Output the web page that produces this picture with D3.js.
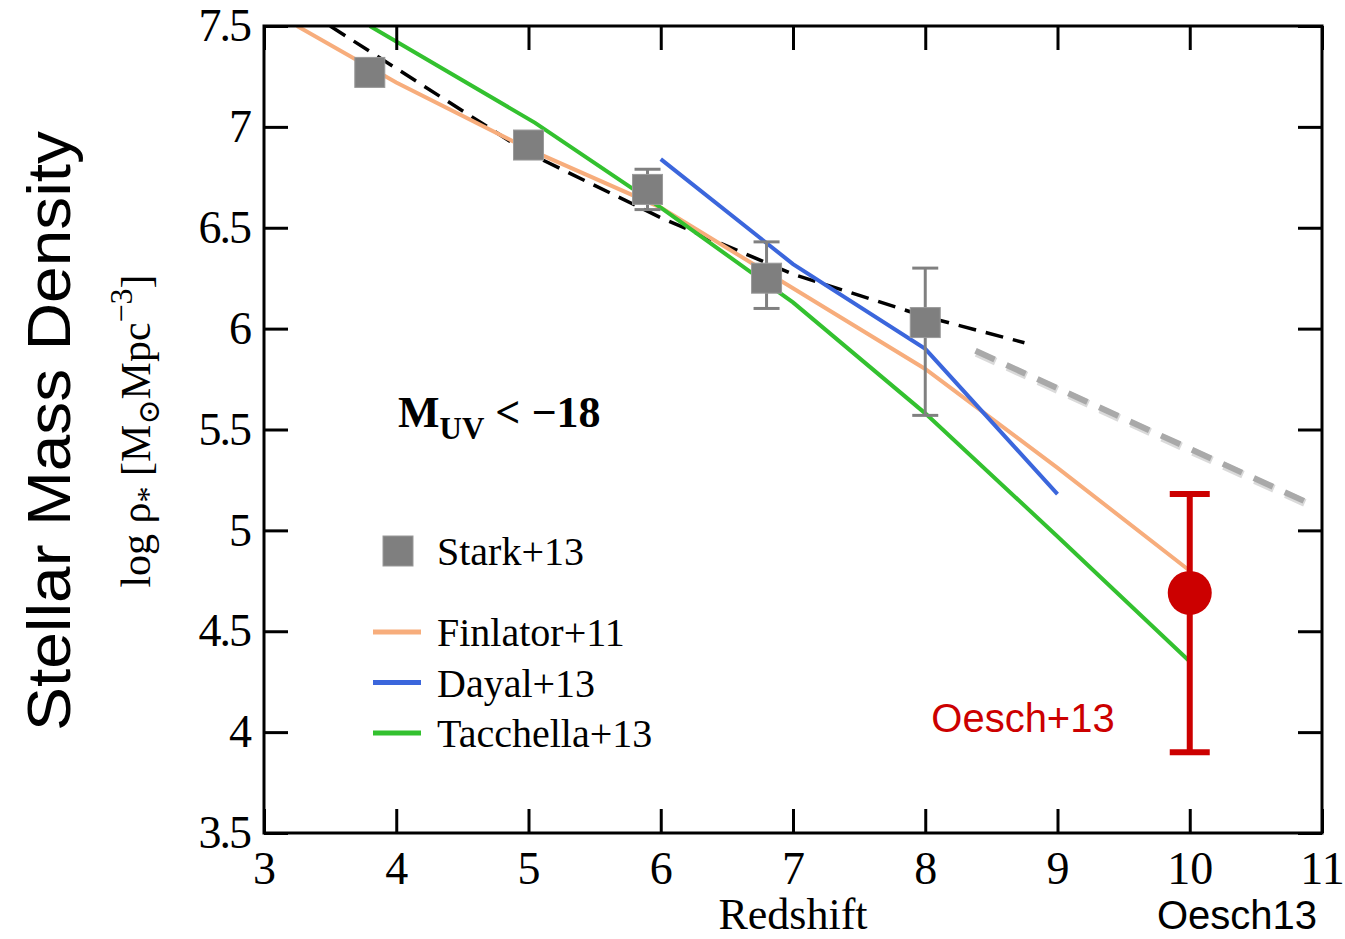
<!DOCTYPE html>
<html>
<head>
<meta charset="utf-8">
<script src="https://cdn.jsdelivr.net/npm/d3@7"></script>
<style>
  body { margin: 0; background: #fff; }
</style>
</head>
<body>
<svg id="chart" width="1345" height="939"></svg>
<script>
// --- data ---
var xTicks = [3, 4, 5, 6, 7, 8, 9, 10, 11];
var yTicks = [3.5, 4, 4.5, 5, 5.5, 6, 6.5, 7, 7.5];

var starkZ   = [3.8, 5.0, 5.9, 6.8, 8.0];
var starkRho = [7.27, 6.91, 6.69, 6.25, 6.03];
var starkLo  = [null, null, 6.59, 6.10, 5.57];
var starkHi  = [null, null, 6.79, 6.43, 6.30];

var finlatorZ   = [3.25, 4, 5, 6, 7, 8, 9, 10];
var finlatorRho = [7.5, 7.22, 6.89, 6.60, 6.20, 5.80, 5.31, 4.80];

var dayalZ   = [6.0, 7.0, 8.0, 9.0];
var dayalRho = [6.84, 6.32, 5.90, 5.18];

var tacchellaZ   = [3.8, 5.05, 6, 7, 8, 9, 10];
var tacchellaRho = [7.5, 7.02, 6.60, 6.13, 5.58, 4.97, 4.35];

var fitZ   = [3.5, 5, 6, 7, 8, 8.75];
var fitRho = [7.5, 6.87, 6.55, 6.27, 6.06, 5.93];

var extrapZ   = [8.38, 10.95];
var extrapRho = [5.89, 5.12];

var oeschZ = 10, oeschRho = 4.69, oeschLo = 3.90, oeschHi = 5.18;

var legendNames = ["Finlator+11", "Dayal+13", "Tacchella+13"];
var legendColors = ["#f7ad7c", "#3b66dc", "#33c12f"];

// --- layout ---
var margin = {top: 26, right: 23, bottom: 106, left: 264}
  , width = 1345 - margin.left - margin.right
  , height = 939 - margin.top - margin.bottom;

var serif = "Liberation Serif, DejaVu Serif, serif";
var sans = "Liberation Sans, Arial, sans-serif";

var svg = d3.select("#chart");
var g = svg.append("g")
    .attr("transform", "translate(" + margin.left + "," + margin.top + ")");

var xScale = d3.scaleLinear().domain([3, 11]).range([0, width]);
var yScale = d3.scaleLinear().domain([3.5, 7.5]).range([height, 0]);

function zip(xs, ys) { return xs.map(function(x, i) { return [x, ys[i]]; }); }

var line = d3.line()
    .x(function(d) { return xScale(d[0]); })
    .y(function(d) { return yScale(d[1]); });

// clip so lines stop at the frame
g.append("clipPath").attr("id", "clip")
  .append("rect").attr("width", width).attr("height", height);

var plot = g.append("g").attr("clip-path", "url(#clip)");

// grey extrapolation (with a soft shadow)
plot.append("path")
    .datum(zip(extrapZ, extrapRho))
    .attr("d", line)
    .attr("fill", "none")
    .attr("stroke", "#dadada")
    .attr("stroke-width", 8)
    .attr("stroke-dasharray", "21,13")
    .attr("transform", "translate(1,2)");
plot.append("path")
    .datum(zip(extrapZ, extrapRho))
    .attr("d", line)
    .attr("fill", "none")
    .attr("stroke", "#a9a9a9")
    .attr("stroke-width", 6)
    .attr("stroke-dasharray", "21,13");

// black dashed fit
plot.append("path")
    .datum(zip(fitZ, fitRho))
    .attr("d", line)
    .attr("fill", "none")
    .attr("stroke", "#000")
    .attr("stroke-width", 3.5)
    .attr("stroke-dasharray", "18,10");

// models
var models = [
  {z: finlatorZ, rho: finlatorRho, color: legendColors[0]},
  {z: dayalZ, rho: dayalRho, color: legendColors[1]},
  {z: tacchellaZ, rho: tacchellaRho, color: legendColors[2]}
];
models.forEach(function(m) {
  plot.append("path")
      .datum(zip(m.z, m.rho))
      .attr("d", line)
      .attr("fill", "none")
      .attr("stroke", m.color)
      .attr("stroke-width", 4);
});

// Stark+13 points with error bars
var stark = starkZ.map(function(z, i) {
  return {z: z, rho: starkRho[i], lo: starkLo[i], hi: starkHi[i]};
});
var withErr = stark.filter(function(d) { return d.lo != null; });

g.selectAll(".sbar").data(withErr).enter().append("line")
    .attr("x1", function(d) { return xScale(d.z); })
    .attr("x2", function(d) { return xScale(d.z); })
    .attr("y1", function(d) { return yScale(d.lo); })
    .attr("y2", function(d) { return yScale(d.hi); })
    .attr("stroke", "#808080").attr("stroke-width", 3);
g.selectAll(".scapl").data(withErr).enter().append("line")
    .attr("x1", function(d) { return xScale(d.z) - 13; })
    .attr("x2", function(d) { return xScale(d.z) + 13; })
    .attr("y1", function(d) { return yScale(d.lo); })
    .attr("y2", function(d) { return yScale(d.lo); })
    .attr("stroke", "#808080").attr("stroke-width", 3);
g.selectAll(".scaph").data(withErr).enter().append("line")
    .attr("x1", function(d) { return xScale(d.z) - 13; })
    .attr("x2", function(d) { return xScale(d.z) + 13; })
    .attr("y1", function(d) { return yScale(d.hi); })
    .attr("y2", function(d) { return yScale(d.hi); })
    .attr("stroke", "#808080").attr("stroke-width", 3);

g.selectAll(".sq").data(stark).enter().append("rect")
    .attr("x", function(d) { return xScale(d.z) - 15; })
    .attr("y", function(d) { return yScale(d.rho) - 15; })
    .attr("width", 30).attr("height", 30)
    .attr("fill", "#7f7f7f")
    .attr("stroke", "#9a9a9a").attr("stroke-width", 1);

// Oesch+13 point
var red = "#cc0000";
g.append("line")
    .attr("x1", xScale(oeschZ)).attr("x2", xScale(oeschZ))
    .attr("y1", yScale(oeschLo)).attr("y2", yScale(oeschHi))
    .attr("stroke", red).attr("stroke-width", 6);
[oeschLo, oeschHi].forEach(function(v) {
  g.append("line")
      .attr("x1", xScale(oeschZ) - 20).attr("x2", xScale(oeschZ) + 20)
      .attr("y1", yScale(v)).attr("y2", yScale(v))
      .attr("stroke", red).attr("stroke-width", 6);
});
g.append("circle")
    .attr("cx", xScale(oeschZ)).attr("cy", yScale(oeschRho))
    .attr("r", 22).attr("fill", red);

// axes (ticks inside, mirrored)
var tickLen = 24;
function styleAxis(sel) {
  sel.attr("font-family", serif);
  sel.select(".domain").remove();
  sel.selectAll(".tick line").attr("stroke", "#000").attr("stroke-width", 3);
}
g.append("g")
    .attr("transform", "translate(0," + height + ")")
    .call(d3.axisBottom(xScale).tickValues(xTicks).tickSize(-tickLen).tickPadding(18))
    .call(styleAxis)
    .selectAll("text").attr("font-size", 46).attr("fill", "#000").attr("dy", "0.72em");
g.append("g")
    .call(d3.axisTop(xScale).tickValues(xTicks).tickSize(-tickLen).tickFormat(""))
    .call(styleAxis);
g.append("g")
    .call(d3.axisLeft(yScale).tickValues(yTicks).tickSize(-tickLen).tickPadding(14)
      .tickFormat(function(d) { return d3.format("")(d); }))
    .call(styleAxis)
    .selectAll("text").attr("font-size", 46).attr("fill", "#000").attr("letter-spacing", -2);
g.append("g")
    .attr("transform", "translate(" + width + ",0)")
    .call(d3.axisRight(yScale).tickValues(yTicks).tickSize(-tickLen).tickFormat(""))
    .call(styleAxis);

// frame
g.append("rect")
    .attr("width", width).attr("height", height)
    .attr("fill", "none").attr("stroke", "#000").attr("stroke-width", 3);

// axis titles
svg.append("text")
    .attr("x", 793).attr("y", 929)
    .attr("text-anchor", "middle")
    .attr("font-family", serif)
    .attr("font-size", 44)
    .text("Redshift");
svg.append("text")
    .attr("x", 1237).attr("y", 929)
    .attr("text-anchor", "middle")
    .attr("font-family", sans)
    .attr("font-size", 40)
    .text("Oesch13");

svg.append("text")
    .attr("transform", "translate(70,431) rotate(-90)")
    .attr("text-anchor", "middle")
    .attr("font-family", sans)
    .attr("font-size", 62)
    .attr("textLength", 600).attr("lengthAdjust", "spacingAndGlyphs")
    .text("Stellar Mass Density");

var sub = svg.append("text")
    .attr("transform", "translate(150,431) rotate(-90)")
    .attr("text-anchor", "middle")
    .attr("font-family", serif)
    .attr("font-size", 42);
sub.append("tspan").text("log ρ");
sub.append("tspan").attr("font-size", 32).attr("dy", 9).text("*");
sub.append("tspan").attr("dy", -9).text(" [M");
sub.append("tspan").attr("font-size", 30).attr("dy", 9).text("⊙");
sub.append("tspan").attr("dy", -9).text("Mpc");
sub.append("tspan").attr("font-size", 32).attr("dy", -18).text("−3");
sub.append("tspan").attr("dy", 18).text("]");

// M_UV annotation
var muv = svg.append("text")
    .attr("x", 398).attr("y", 427)
    .attr("font-family", serif)
    .attr("font-weight", "bold")
    .attr("font-size", 44);
muv.append("tspan").text("M");
muv.append("tspan").attr("font-size", 31).attr("dy", 12).text("UV");
muv.append("tspan").attr("dy", -12).text(" < −18");

// Oesch+13 label
svg.append("text")
    .attr("x", 1023).attr("y", 732)
    .attr("text-anchor", "middle")
    .attr("font-family", sans)
    .attr("font-size", 40)
    .attr("fill", red)
    .text("Oesch+13");

// legend
var legend = svg.append("g");
legend.append("rect")
    .attr("x", 383).attr("y", 536).attr("width", 30).attr("height", 30)
    .attr("fill", "#7f7f7f").attr("stroke", "#9a9a9a").attr("stroke-width", 1);
legend.append("text")
    .attr("x", 437).attr("y", 565)
    .attr("font-family", serif).attr("font-size", 40)
    .text("Stark+13");
legendNames.forEach(function(name, i) {
  var yy = 632 + i * 50.5;
  legend.append("line")
      .attr("x1", 373).attr("x2", 421).attr("y1", yy).attr("y2", yy)
      .attr("stroke", legendColors[i]).attr("stroke-width", 5);
  legend.append("text")
      .attr("x", 437).attr("y", yy + 14)
      .attr("font-family", serif).attr("font-size", 40)
      .text(name);
});
</script>
</body>
</html>
